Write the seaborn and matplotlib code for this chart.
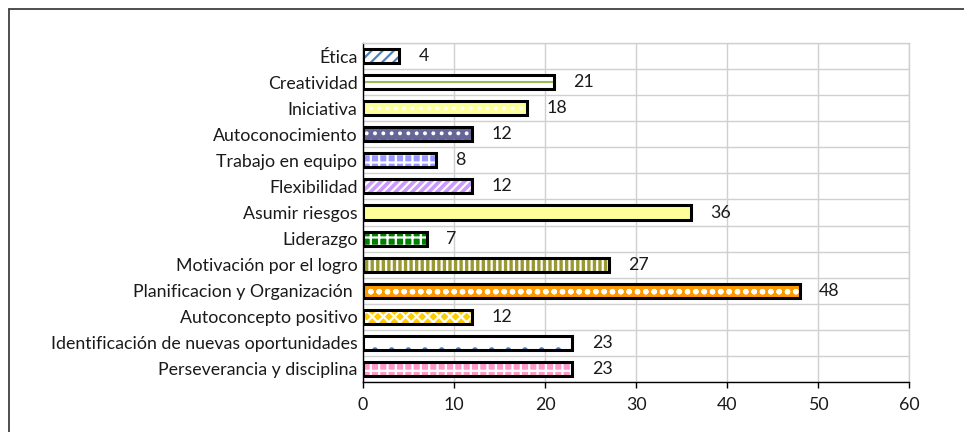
"""
Competencias emprendedoras - barras horizontales con tramas (estilo Excel)
"""

import matplotlib
matplotlib.use("Agg")
import matplotlib.pyplot as plt
from matplotlib.patches import Rectangle
from matplotlib.lines import Line2D
import seaborn as sns
import pandas as pd

# Datos
competencias = [
    "Ética",
    "Creatividad",
    "Iniciativa",
    "Autoconocimiento",
    "Trabajo en equipo",
    "Flexibilidad",
    "Asumir riesgos",
    "Liderazgo",
    "Motivación por el logro",
    "Planificacion y Organización ",
    "Autoconcepto positivo",
    "Identificación de nuevas oportunidades",
    "Perseverancia y disciplina",
]
valores = [4, 21, 18, 12, 8, 12, 36, 7, 27, 48, 12, 23, 23]

# Relleno, color de trama y trama de cada barra ("linea" = raya central)
rellenos = ["#ffffff", "#ffffff", "#ffff99", "#666699", "#9999ff", "#cc99ff",
            "#ffff99", "#008000", "#999933", "#ff9900", "#ffcc00", "#ffffff", "#ff99cc"]
tramas_color = ["#4f81bd", "#9bbb59", "#ffffff", "#ffffff", "#ffffff", "#ffffff",
                "#ffff99", "#ffffff", "#ffffff", "#ffffff", "#ffffff", "#4f81bd", "#ffffff"]
tramas = ["///", "linea", "..", "..", "++", "////", "", "++", "|||", "oo", "xxx", ".", "++"]

df = pd.DataFrame({"Competencia": competencias, "Valor": valores})

sns.set_theme(style="white")
plt.rcParams["font.family"] = ["Lato", "DejaVu Sans"]
plt.rcParams["hatch.linewidth"] = 1.6

fig = plt.figure(figsize=(9.64, 4.32), dpi=100)
ax = fig.add_axes([0.3766, 0.1157, 0.943 - 0.3766, 0.9005 - 0.1157])

sns.barplot(data=df, x="Valor", y="Competencia", orient="h", ax=ax,
            width=0.54, color="white", saturation=1)

for p, fc, hc, h in zip(ax.patches, rellenos, tramas_color, tramas):
    p.set_facecolor(fc)
    p.set_edgecolor(hc)
    p.set_linewidth(0)
    if h == "linea":
        yc = p.get_y() + p.get_height() / 2
        ax.plot([p.get_x(), p.get_x() + p.get_width()], [yc, yc],
                color=hc, linewidth=1.5, zorder=p.get_zorder() + 0.05)
    else:
        p.set_hatch(h)
    borde = Rectangle(p.get_xy(), p.get_width(), p.get_height(),
                      fill=False, edgecolor="black", linewidth=2.2, zorder=p.get_zorder() + 0.1)
    ax.add_patch(borde)

ax.bar_label(ax.containers[0], labels=[str(v) for v in valores], padding=14,
             fontsize=12.8, color="#1a1a1a")

ax.set_xlim(0, 60)
ax.set_ylim(len(competencias) - 0.5, -0.5)
ax.set_xticks(range(0, 61, 10))
ax.set_xlabel("")
ax.set_ylabel("")

# lineas de division entre categorias
ax.set_yticks([i + 0.5 for i in range(-1, len(competencias))], minor=True)
ax.grid(axis="x", color="#d0d0d0", linewidth=1)
ax.grid(axis="y", which="minor", color="#d0d0d0", linewidth=1)
ax.set_axisbelow(True)

ax.tick_params(axis="y", which="major", length=0, pad=4, labelsize=12.8, labelcolor="#1a1a1a")
ax.tick_params(axis="y", which="minor", length=4, width=1, color="black", direction="out")
ax.tick_params(axis="x", length=4, width=1, color="black", direction="out", bottom=True,
               pad=7, labelsize=12.8, labelcolor="#1a1a1a")

for s in ["left", "bottom"]:
    ax.spines[s].set_color("black")
    ax.spines[s].set_linewidth(1)
for s in ["top", "right"]:
    ax.spines[s].set_color("#d0d0d0")
    ax.spines[s].set_linewidth(1)

# marco del area del grafico
fig.add_artist(Line2D([9 / 964, 1], [1 - 9 / 432, 1 - 9 / 432], color="#404040", linewidth=1.3))
fig.add_artist(Line2D([9 / 964, 9 / 964], [0, 1 - 9 / 432], color="#404040", linewidth=1.3))

fig.savefig("out.png", dpi=100)
